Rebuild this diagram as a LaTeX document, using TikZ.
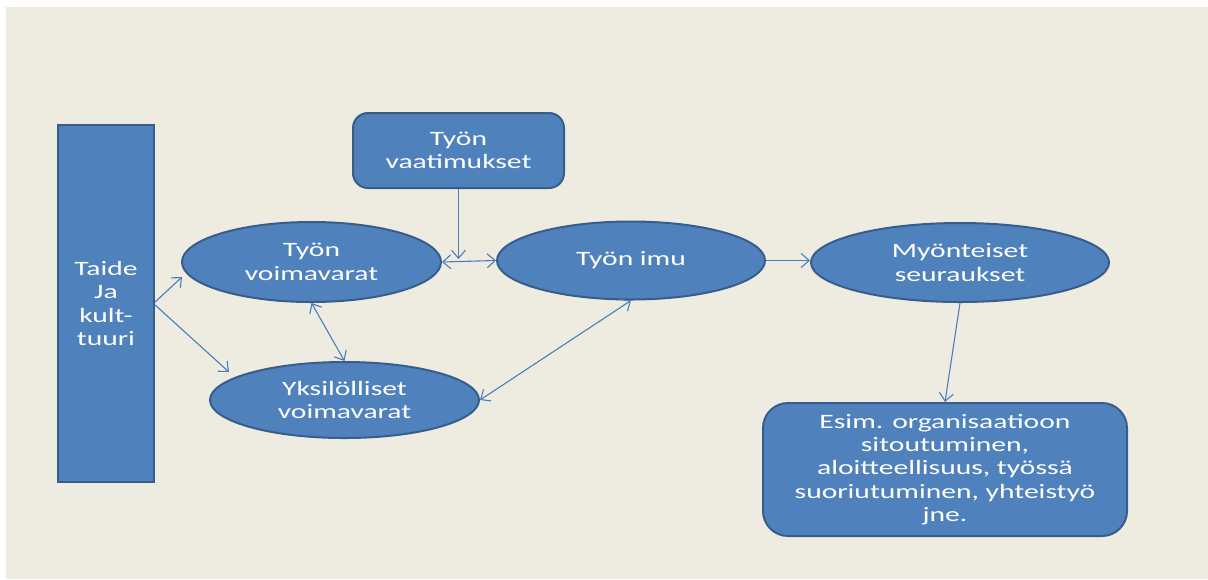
\documentclass[tikz,border=0pt]{standalone}
\usepackage{fontspec}
\setmainfont{Carlito}[FakeStretch=1.45]
\usetikzlibrary{shapes.geometric,arrows.meta}
\definecolor{bgbeige}{HTML}{EEEBE1}
\definecolor{boxfill}{HTML}{4F81BD}
\definecolor{boxline}{HTML}{385D8A}
\definecolor{conn}{HTML}{4A7EBB}
\tikzset{
  base/.style={fill=boxfill, draw=boxline, line width=1pt, text=white, align=center,
    font=\fontsize{10.2}{11.7}\selectfont, inner sep=0pt},
  ell/.style={base, ellipse},
  rbox/.style={base, rectangle, rounded corners=#1},
  conline/.style={draw=conn, line width=0.55pt, -{Straight Barb[length=4pt,width=7pt]}},
  biline/.style={draw=conn, line width=0.55pt, {Straight Barb[length=4pt,width=7pt]}-{Straight Barb[length=4pt,width=7pt]}}
}
\begin{document}
\begin{tikzpicture}[x=0.5pt,y=-0.5pt]
\useasboundingbox (0,0) rectangle (1208,579);
\fill[white] (0,0) rectangle (1208,579);
\fill[bgbeige] (6,7) rectangle (1208,579);

\node[base, rectangle, minimum width=48pt, minimum height=178.5pt] (taide) at (106,303.5) {Taide\\Ja\\kult-\\tuuri};
\node[rbox=7.5pt, minimum width=105.5pt, minimum height=37.5pt] (vaat) at (458.5,150.5) {Työn\\vaatimukset};
\node[ell, minimum width=129.5pt, minimum height=40pt] (tv) at (311.5,262) {Työn\\voimavarat};
\node[ell, minimum width=134pt, minimum height=39pt] (ti) at (631,260.5) {Työn imu};
\node[ell, minimum width=149pt, minimum height=39.5pt] (my) at (960,262.5) {Myönteiset\\seuraukset};
\node[ell, minimum width=134.5pt, minimum height=38pt] (yk) at (344.5,400) {Yksilölliset\\voimavarat};
\node[rbox=12.5pt, minimum width=182pt, minimum height=66.5pt] (esim) at (945,469.5) {Esim. organisaatioon\\sitoutuminen,\\aloitteellisuus, työssä\\suoriutuminen, yhteistyö\\jne.};

\coordinate (mid) at (458.5,259);

\draw[conline] ([yshift=0.7pt]taide.east) -- ([xshift=0.5pt,yshift=-7.5pt]tv.west);
\draw[conline] ([yshift=-0.7pt]taide.east) -- ([xshift=10pt,yshift=14pt]yk.west);
\draw[conline] (vaat.south) -- (mid);
\draw[biline] (tv.east) -- (ti.west);
\draw[conline] (ti.east) -- (ti.east -| my.west);
\draw[biline] (tv.south) -- (yk.north);
\draw[biline] (ti.south) -- (yk.east);
\draw[conline] (my.south) -- (esim.north);
\end{tikzpicture}
\end{document}
